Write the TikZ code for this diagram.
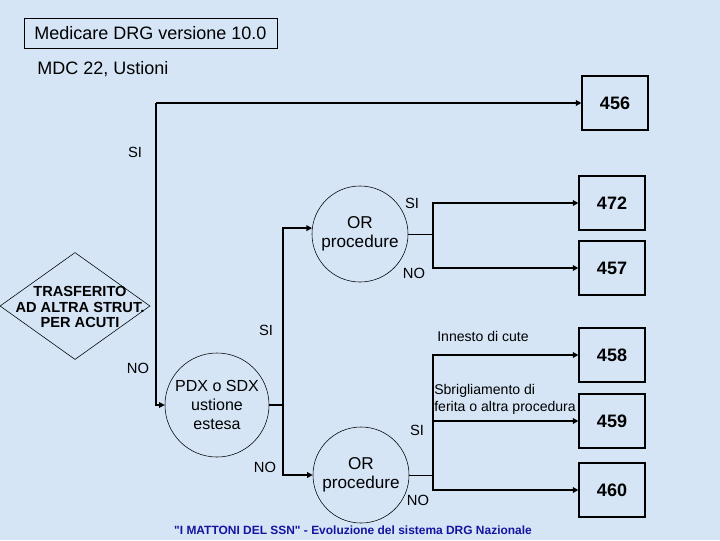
\documentclass[tikz,border=0pt]{standalone}
\usepackage{fontspec}
\setmainfont{Liberation Sans}
\usetikzlibrary{arrows.meta,shapes.geometric}
\definecolor{slidebg}{RGB}{213,229,246}
\definecolor{footerblue}{RGB}{20,20,160}

\begin{document}
\begin{tikzpicture}[
  x=0.025cm, y=-0.025cm,
  titlebox/.style={
    draw=black,
    line width=0.6pt,
    minimum width=6.325cm,
    minimum height=0.75cm,
    inner sep=0pt,
    font=\fontsize{12.8}{15}\selectfont
  },
  drgbox/.style={
    draw=black,
    line width=0.8pt,
    minimum width=1.65cm,
    minimum height=1.35cm,
    inner sep=0pt,
    font=\fontsize{12.8}{15}\selectfont\bfseries
  },
  testcircle/.style={
    draw=black,
    circle,
    line width=0.4pt,
    inner sep=0pt,
    minimum size=2.4cm,
    align=center,
    font=\fontsize{12.2}{13.5}\selectfont
  },
  pdxcircle/.style={testcircle, minimum size=2.6cm, font=\fontsize{11.4}{13.5}\selectfont},
  answer/.style={font=\fontsize{10.5}{12}\selectfont, inner sep=0pt},
  note/.style={font=\fontsize{10}{12}\selectfont, align=left, inner sep=0pt},
  conn/.style={line width=1.3pt, draw=black},
  thinconn/.style={line width=0.6pt, draw=black},
  arrow/.style={conn, -{Triangle[length=4pt,width=4pt]}}
]
\useasboundingbox (0,0) rectangle (720,540);
\fill[slidebg] (0,0) rectangle (720,540);

\node[titlebox] (title) at (150.5,33) {Medicare DRG versione 10.0};
\node[anchor=west, inner sep=0pt, font=\fontsize{12.8}{15}\selectfont] (mdc) at (37,69) {MDC 22, Ustioni};

\node[diamond, draw=black, line width=0.4pt, minimum width=3.75cm, minimum height=2.675cm, inner sep=0pt] (trasf) at (75,306) {};
\node[font=\fontsize{10.4}{10.8}\selectfont\bfseries, align=center] (trasftext) at (80,307)
  {TRASFERITO\\AD ALTRA STRUT.\\PER ACUTI};

\node[pdxcircle] (pdx) at (217,405) {PDX o SDX\\ustione\\estesa};
\node[testcircle] (orup) at (360,234) {OR\\procedure};
\node[testcircle] (ordown) at (361,475) {OR\\procedure};

\node[drgbox] (b456) at (615,103) {456};
\node[drgbox] (b472) at (612,203) {472};
\node[drgbox] (b457) at (612,268) {457};
\node[drgbox] (b458) at (612,355) {458};
\node[drgbox] (b459) at (612,421) {459};
\node[drgbox] (b460) at (612,490) {460};

\coordinate (trunk) at (156,103);
\coordinate (pdxsplit) at (283,405);
\coordinate (orupsplit) at (433,234);
\coordinate (ordownsplit) at (433,475);

\draw[arrow] (trunk) -- (b456);
\draw[arrow, line width=0.8pt] (trunk) |- (pdx);
\draw[conn] (pdx) -- (pdxsplit);
\draw[arrow] (pdxsplit) |- (orup.173);
\draw[arrow] (pdxsplit) |- (ordown);
\draw[thinconn] (orup) -- (orupsplit);
\draw[arrow] (orupsplit) |- (b472);
\draw[arrow] (orupsplit) |- (b457);
\draw[thinconn] (ordown) -- (ordownsplit);
\draw[arrow] (ordownsplit) |- (b458);
\draw[arrow] (ordownsplit) |- (b459);
\draw[arrow] (ordownsplit) |- (b460);

\node[answer] (siTrasf) at (135,152) {SI};
\node[answer] (noTrasf) at (138,368) {NO};
\node[answer] (siPdx) at (266,330) {SI};
\node[answer] (noPdx) at (265,467) {NO};
\node[answer] (siOrUp) at (412,203) {SI};
\node[answer] (noOrUp) at (414,273) {NO};
\node[answer] (siOrDown) at (417,430) {SI};
\node[answer] (noOrDown) at (418,500) {NO};

\node[note] (innesto) at (483,336) {Innesto di cute};
\node[note, anchor=west] (sbrigl) at (434,399) {Sbrigliamento di\\ferita o altra procedura};

\node[font=\fontsize{8.5}{10}\selectfont\bfseries, text=footerblue] (footer) at (353,530)
  {\textquotedbl I MATTONI DEL SSN\textquotedbl{} - Evoluzione del sistema DRG Nazionale};

\end{tikzpicture}
\end{document}
